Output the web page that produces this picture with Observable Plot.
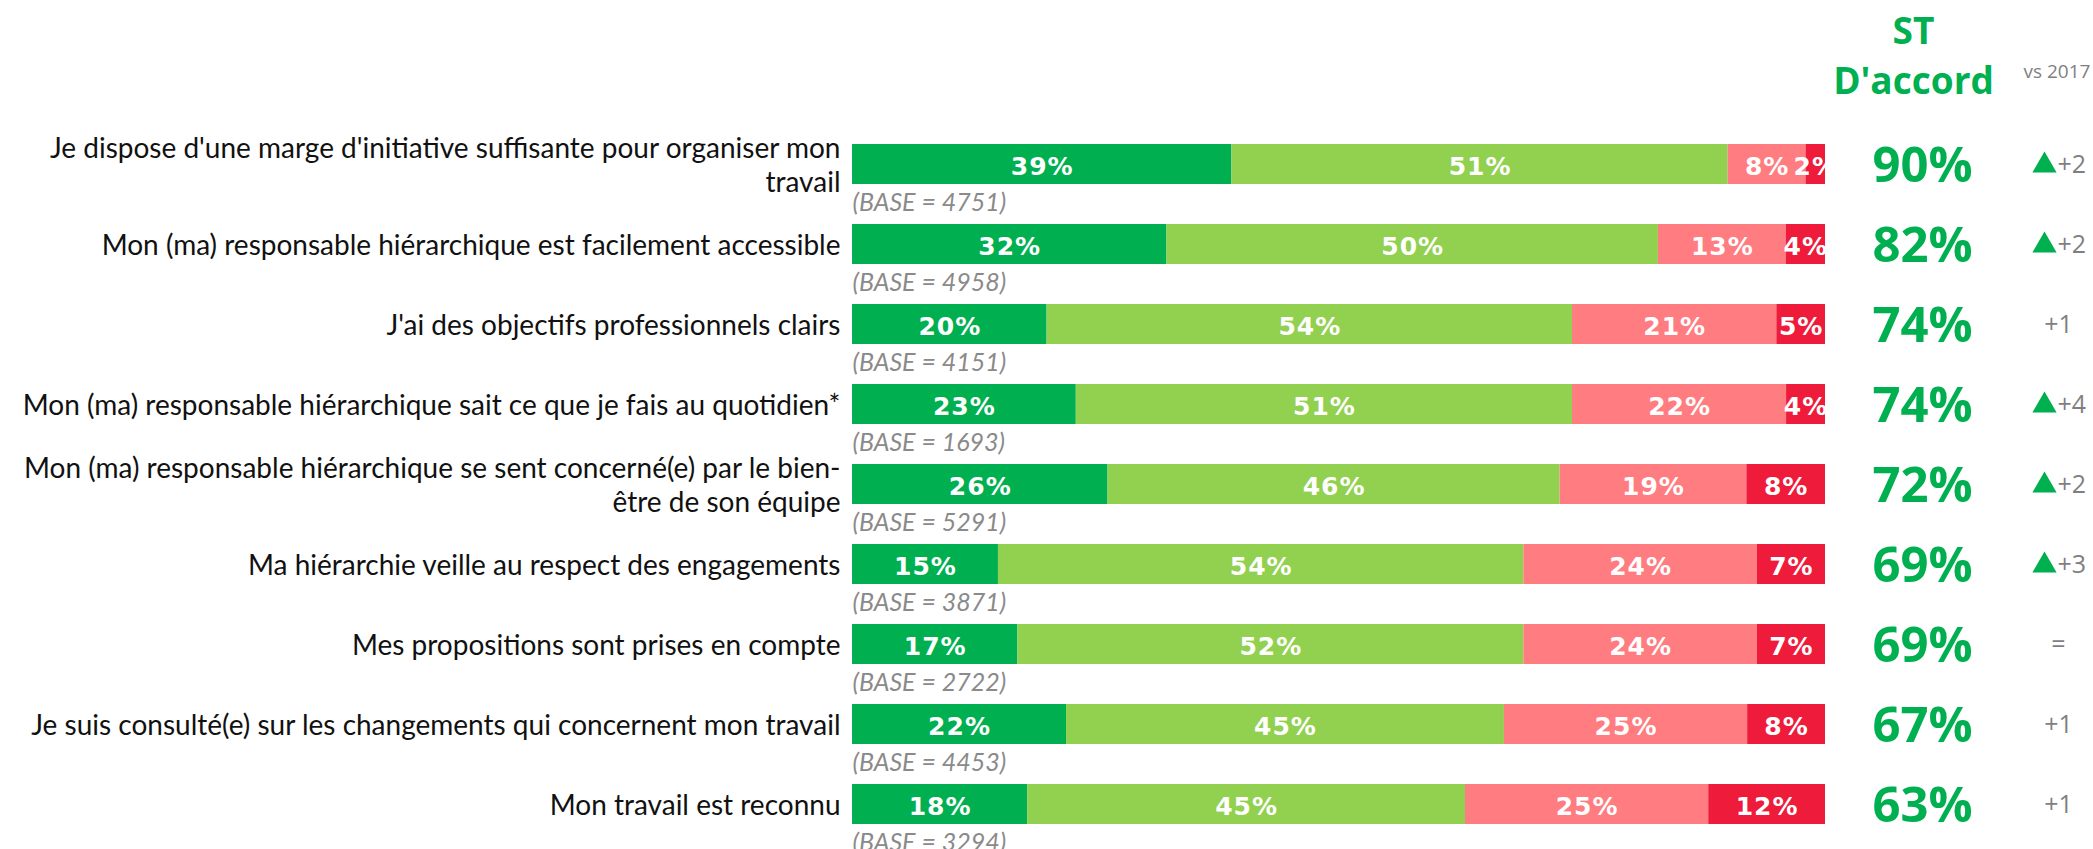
<!DOCTYPE html>
<html>
<head>
<meta charset="utf-8">
<script src="https://cdn.jsdelivr.net/npm/d3@7"></script>
<script src="https://cdn.jsdelivr.net/npm/@observablehq/plot@0.6"></script>
<style>
  html, body { margin: 0; padding: 0; background: #fff; }
  #chart svg { display: block; }
</style>
</head>
<body>
<div id="chart"></div>
<script>
// ---- Data ----
const questions = [
  "Je dispose d'une marge d'initiative suffisante pour organiser mon\ntravail",
  "Mon (ma) responsable hiérarchique est facilement accessible",
  "J'ai des objectifs professionnels clairs",
  "Mon (ma) responsable hiérarchique sait ce que je fais au quotidien*",
  "Mon (ma) responsable hiérarchique se sent concerné(e) par le bien-\nêtre de son équipe",
  "Ma hiérarchie veille au respect des engagements",
  "Mes propositions sont prises en compte",
  "Je suis consulté(e) sur les changements qui concernent mon travail",
  "Mon travail est reconnu"
];
const categories = ["Tout à fait d'accord", "Plutôt d'accord", "Plutôt pas d'accord", "Pas du tout d'accord"];
const toutAFait = [39, 32, 20, 23, 26, 15, 17, 22, 18];
const plutot    = [51, 50, 54, 51, 46, 54, 52, 45, 45];
const plutotPas = [ 8, 13, 21, 22, 19, 24, 24, 25, 25];
const pasDuTout = [ 2,  4,  5,  4,  8,  7,  7,  8, 12];
const bases     = [4751, 4958, 4151, 1693, 5291, 3871, 2722, 4453, 3294];
const stAccord  = [90, 82, 74, 74, 72, 69, 69, 67, 63];
const deltas    = ["+2", "+2", "+1", "+4", "+2", "+3", "=", "+1", "+1"];
const deltaUp   = [true, true, false, true, true, true, false, false, false];
const colors = ["#00B050", "#92D050", "#FF7C80", "#EE1B3B"];

// ---- Build tables ----
const series = [toutAFait, plutot, plutotPas, pasDuTout];
const segs = questions.flatMap((q, i) => categories.map((c, j) => ({q, cat: c, value: series[j][i]})));
const rows = questions.map((q, i) => ({q, base: bases[i], st: stAccord[i], delta: deltas[i], up: deltaUp[i]}));

const green = "#00B050";
const gray = "#7F7F7F";

const chart = Plot.plot({
  width: 2093,
  height: 849,
  marginLeft: 852,
  marginRight: 268,
  marginTop: 144,
  marginBottom: 25,
  x: {domain: [0, 1], axis: null},
  y: {domain: questions, paddingInner: 0.5, paddingOuter: 0, axis: null},
  color: {domain: categories, range: colors},
  style: {background: "#fff"},
  marks: [
    Plot.barX(segs, Plot.stackX({x: "value", y: "q", fill: "cat", z: "cat", offset: "normalize"})),
    Plot.text(segs, Plot.stackX({
      x: "value", y: "q", z: "cat", offset: "normalize",
      text: d => d.value + "%",
      fill: "white", fontWeight: "bold", fontSize: 25, fontFamily: "DejaVu Sans",
      dy: 2, clip: true
    })),
    // question labels
    Plot.text(questions, {
      y: d => d, text: d => d, frameAnchor: "left", dx: -12, textAnchor: "end",
      fontSize: 28, lineHeight: 34 / 28, fontFamily: "Lato", fill: "#111"
    }),
    // base labels
    Plot.text(rows, {
      y: "q", text: d => `(BASE = ${d.base})`, frameAnchor: "left", textAnchor: "start",
      dy: 38, fontSize: 25, fontStyle: "italic", fontFamily: "Lato", fill: "#8a8a8a"
    }),
    // ST D'accord values
    Plot.text(rows, {
      y: "q", text: d => d.st + "%", frameAnchor: "right", dx: 97, dy: 2, textAnchor: "middle",
      fontSize: 49, fontWeight: "bold", fontFamily: "Open Sans", fill: green
    }),
    // header
    Plot.text(["ST\nD'accord"], {
      text: d => d, frameAnchor: "top-right", dx: 88, dy: -51, textAnchor: "middle",
      lineAnchor: "bottom", lineHeight: 50 / 37,
      fontSize: 37, fontWeight: "bold", fontFamily: "Open Sans", fill: green
    }),
    Plot.text(["vs 2017"], {
      text: d => d, frameAnchor: "top-right", dx: 198, dy: -67, textAnchor: "start",
      lineAnchor: "bottom", fontSize: 19, fontFamily: "Open Sans", fill: gray
    }),
    // delta triangles
    Plot.dot(rows.filter(d => d.up), {
      y: "q", frameAnchor: "right", dx: 219, dy: 1, symbol: "triangle", r: 9, fill: green, stroke: null
    }),
    Plot.text(rows.filter(d => d.up), {
      y: "q", text: "delta", frameAnchor: "right", dx: 232, textAnchor: "start",
      fontSize: 25, fontFamily: "Open Sans", fill: gray
    }),
    Plot.text(rows.filter(d => !d.up), {
      y: "q", text: "delta", frameAnchor: "right", dx: 233, textAnchor: "middle",
      fontSize: 25, fontFamily: "Open Sans", fill: gray
    })
  ]
});
// slight letter spacing on the in-bar labels (Verdana-like width)
const textGroups = chart.querySelectorAll('g[aria-label="text"]');
if (textGroups.length) textGroups[0].style.letterSpacing = "1px";
document.getElementById("chart").appendChild(chart);
</script>
</body>
</html>
